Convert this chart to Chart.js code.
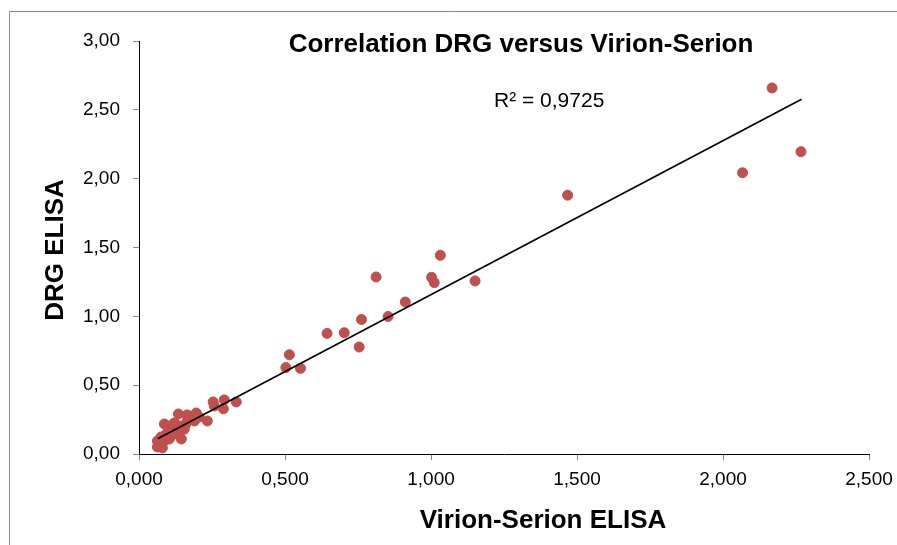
<!DOCTYPE html>
<html>
<head>
<meta charset="utf-8">
<script src="https://cdn.jsdelivr.net/npm/chart.js@4.4.1/dist/chart.umd.min.js"></script>
<style>
  html, body { margin: 0; padding: 0; background: #fff; }
  #wrap { width: 897px; height: 545px; }
</style>
</head>
<body>
<div id="wrap"><canvas id="corr" width="897" height="545"></canvas></div>
<script>
// ── Data ──────────────────────────────────────────────────────
const virionX = [
  0.063, 0.063, 0.070, 0.080, 0.087, 0.076, 0.094, 0.104, 0.111, 0.087,
  0.097, 0.121, 0.131, 0.121, 0.138, 0.145, 0.149, 0.159, 0.165, 0.135,
  0.165, 0.179, 0.190, 0.196, 0.206, 0.234, 0.254, 0.258, 0.292, 0.289,
  0.333, 0.100, 0.115, 0.085, 0.075, 0.140, 0.155, 0.070,
  0.503, 0.515, 0.553, 0.644, 0.703, 0.754, 0.762, 0.853, 0.912, 0.812,
  1.002, 1.011, 1.032, 1.151, 1.468, 2.067, 2.168, 2.267
];
const drgY = [
  0.051, 0.095, 0.073, 0.044, 0.095, 0.124, 0.146, 0.109, 0.167, 0.218,
  0.204, 0.182, 0.153, 0.226, 0.204, 0.109, 0.189, 0.211, 0.240, 0.291,
  0.284, 0.255, 0.240, 0.298, 0.269, 0.240, 0.378, 0.349, 0.393, 0.328,
  0.378, 0.130, 0.140, 0.120, 0.100, 0.170, 0.180, 0.060,
  0.628, 0.721, 0.622, 0.876, 0.881, 0.777, 0.977, 0.999, 1.104, 1.286,
  1.283, 1.245, 1.443, 1.257, 1.880, 2.043, 2.659, 2.196
];
// linear trend line end points
const trendX = [0.064, 2.269];
const trendY = [0.111, 2.576];

const chartTitle = 'Correlation DRG versus Virion-Serion';
const xTitle = 'Virion-Serion ELISA';
const yTitle = 'DRG ELISA';
const r2Label = 'R² = 0,9725';

const FONT = '"Liberation Sans", Arial, sans-serif';

// ── Text + frame plugin ──────────────────────────────────────
const chartText = {
  id: 'chartText',
  beforeDraw(chart) {
    const c = chart.ctx;
    c.save();
    c.fillStyle = '#fff';
    c.fillRect(0, 0, chart.width, chart.height);
    c.strokeStyle = '#888';
    c.lineWidth = 1;
    c.beginPath();
    c.moveTo(9.5, chart.height);
    c.lineTo(9.5, 11.5);
    c.lineTo(chart.width, 11.5);
    c.stroke();
    c.restore();
  },
  afterDraw(chart) {
    const c = chart.ctx;
    c.save();
    c.fillStyle = '#000';
    c.textAlign = 'center';
    c.textBaseline = 'alphabetic';
    c.font = `bold 26px ${FONT}`;
    c.fillText(chartTitle, 521, 52);
    c.fillText(xTitle, 543, 528);

    c.font = `21px ${FONT}`;
    c.textAlign = 'left';
    c.fillText(r2Label, 494, 107);

    c.translate(63, 250);
    c.rotate(-Math.PI / 2);
    c.textAlign = 'center';
    c.font = `bold 26px ${FONT}`;
    c.fillText(yTitle, 0, 0);
    c.restore();
  }
};

// ── Chart ─────────────────────────────────────────────────────
const points = virionX.map((x, i) => ({ x, y: drgY[i] }));
const trend = trendX.map((x, i) => ({ x, y: trendY[i] }));

new Chart(document.getElementById('corr'), {
  type: 'scatter',
  data: {
    datasets: [
      {
        label: 'Trend',
        data: trend,
        showLine: true,
        borderColor: '#000',
        borderWidth: 1.7,
        pointRadius: 0,
        fill: false,
        order: 0
      },
      {
        label: 'Samples',
        data: points,
        backgroundColor: '#C0504D',
        borderColor: '#C0504D',
        borderWidth: 1,
        pointRadius: 5,
        order: 1
      }
    ]
  },
  options: {
    responsive: false,
    animation: false,
    layout: { padding: { top: 41, right: 28, left: 0, bottom: 0 } },
    plugins: {
      legend: { display: false },
      tooltip: { enabled: false },
      title: { display: false }
    },
    scales: {
      x: {
        type: 'linear',
        min: 0,
        max: 2.5,
        afterFit: s => { s.height = 91; s.paddingLeft = 0; s.paddingRight = 0; },
        ticks: {
          stepSize: 0.5,
          color: '#000',
          padding: 8,
          font: { family: FONT, size: 19 },
          callback: v => v.toFixed(3).replace('.', ',')
        },
        grid: { display: true, drawOnChartArea: false, drawTicks: true, tickLength: 6, color: '#888' },
        border: { color: '#000', width: 1 }
      },
      y: {
        type: 'linear',
        min: 0,
        max: 3,
        afterFit: s => { s.width = 139; s.paddingTop = 0; s.paddingBottom = 0; },
        ticks: {
          stepSize: 0.5,
          color: '#000',
          padding: 13,
          font: { family: FONT, size: 19 },
          callback: v => v.toFixed(2).replace('.', ',')
        },
        grid: { display: true, drawOnChartArea: false, drawTicks: true, tickLength: 6, color: '#888' },
        border: { color: '#000', width: 1 }
      }
    }
  },
  plugins: [chartText]
});
</script>
</body>
</html>
